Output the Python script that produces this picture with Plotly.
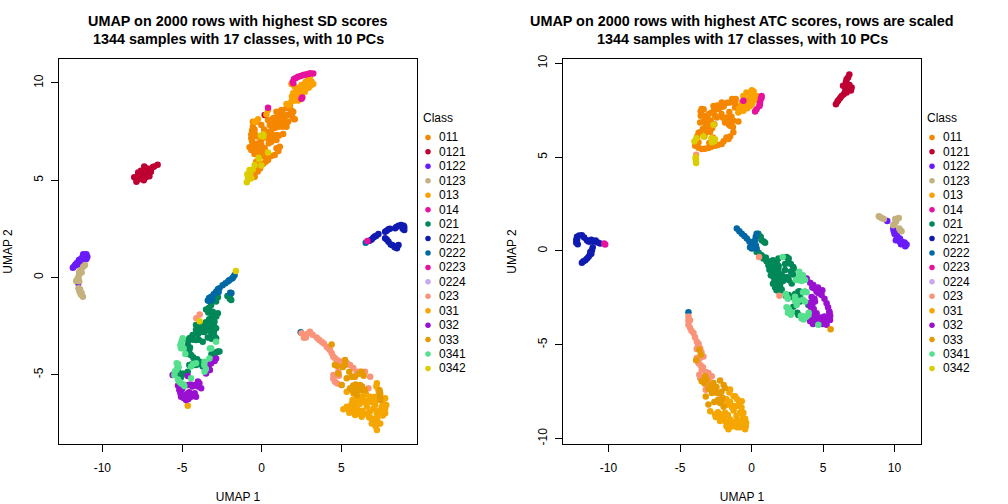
import plotly.graph_objects as go

WIDTH, HEIGHT = 1008, 504

classes = ["011", "0121", "0122", "0123", "013", "014", "021", "0221", "0222",
           "0223", "0224", "023", "031", "032", "033", "0341", "0342"]
colors = ["#F58700", "#BE0032", "#6A1BFA", "#C4B17E", "#FBA200", "#E6119D", "#008859",
          "#0F1AB0", "#0067A5", "#E6119D", "#C8A8F0", "#F99379", "#F6A600", "#9A10D0",
          "#E69A00", "#55E08E", "#DDCC00"]

sd_011 = [(1.77,8.87),(1.56,8.70),(1.24,8.61),(0.93,8.52),(1.98,8.52),(1.77,8.35),(1.45,8.27),(1.14,8.27),
          (0.72,8.18),(0.40,8.10),(2.08,8.13),(1.66,8.01),(1.24,7.92),(0.82,7.92),(0.51,7.84),(1.56,7.75),
          (1.03,7.75),(0.72,7.67),(1.35,7.38),(0.93,7.32),(0.51,7.50),(0.40,7.15),(0.93,7.07),(0.61,6.98),
          (-0.55,7.75),(-0.34,8.01),(-0.44,7.41),(-0.65,7.15),(-0.55,6.90),(-0.76,6.69),(-0.34,6.72),
          (-0.02,6.81),(-0.65,6.55),(-0.13,6.38),(0.30,6.30),(0.93,6.64),(1.14,6.72),(0.82,6.30),(0.40,6.04),
          (0.09,5.83),(-0.34,5.95),(-0.34,5.61),(-0.65,5.44),(-0.76,5.27),(-0.44,5.18),(-0.13,6.55),
          (0.19,6.64),(-0.02,7.07),(0.30,7.41),(-0.02,7.84),(2.0,8.15),
          (1.2,8.3),(1.4,8.1),(1.0,8.05),(0.8,8.2),(1.1,7.95),(1.6,8.35),(1.3,8.45),(1.0,8.4),(0.6,8.0),(1.85,8.6),
          (1.9,8.3),(1.5,7.85),(1.3,7.75),(0.85,7.7),(0.6,7.4),(1.1,7.3),(0.75,7.1),(0.55,7.25),(0.45,6.9),
          (-0.6,7.0),(-0.45,6.85),(-0.2,6.9),(-0.2,6.65),(-0.5,6.55),(-0.45,6.35),(-0.3,6.4),(0.1,6.45),(0.05,6.25),
          (0.35,6.1),(0.25,5.95),(0.6,6.25),(1.05,6.5),(-0.15,5.85),(-0.1,5.6),(-0.5,5.5),(-0.55,5.3),(-0.25,5.45),
          (-0.6,7.55),(-0.45,7.6),(-0.3,7.25),(0.15,7.6),(0.1,7.2),(-0.65,7.35),(-0.55,8.0)]
sd_0121 = [(-6.53,5.80),(-6.85,5.66),(-7.23,5.61),(-7.58,5.49),(-7.06,5.35),(-7.58,5.27),(-8.0,5.15),(-7.86,4.92),
           (-7.27,5.15),(-6.95,5.44),(-7.69,5.05),(-7.37,5.70),(-7.2,5.35),(-7.45,5.35),(0.19,8.35),
           (-7.75,5.25),(-7.9,5.1),(-7.6,5.1),(-7.45,5.15),(-7.35,5.5),(-7.15,5.5),(-7.0,5.55),(-6.75,5.7),(-7.05,5.2),
           (-7.4,5.0),(-7.75,5.4)]
sd_0122 = [(-11.15,1.16),(-11.47,0.90),(-11.78,0.56),(-10.94,1.07),(-11.26,0.85),(-11.3,0.6),(-11.5,0.65),
           (-11.51,-0.30),(-11.1,1.05),(-11.0,1.2),(-11.25,1.05),(-11.35,0.95),(-11.6,0.75),(-11.7,0.65),(-11.85,0.5),
           (-11.0,0.95),(-11.2,1.2),(-11.4,0.6)]
sd_0123 = [(-11.09,0.64),(-11.36,0.39),(-11.47,0.13),(-11.64,-0.18),(-11.5,-0.05),(-11.43,-0.73),(-11.5,-0.56),
           (-11.22,-0.99),(-11.35,-0.88),(-11.2,0.55),(-11.3,0.25),(-11.55,-0.05),(-11.45,-0.2),(-11.4,-0.6),
           (-11.3,-0.8),(-11.45,0.3)]
sd_013 = [(2.82,9.98),(3.13,10.07),(2.92,10.24),(2.50,9.89),(2.08,9.81),(1.98,9.47),(2.19,9.29),(2.40,9.47),
          (2.71,9.55),(1.87,9.95),(3.03,10.32),(3.24,9.95),(1.87,9.04),(1.56,8.92),(0.40,8.61),(-0.23,8.13),
          (-0.44,8.01),(0.30,8.38),(2.35,9.7),(2.95,9.75),(2.3,9.6),(2.55,9.5),(2.6,9.75),(2.85,9.75),(3.1,9.9),
          (2.75,10.05),(2.15,9.55),(2.05,9.25),(1.95,9.15),(1.7,8.85),(2.65,9.9),(3.0,10.05),(2.1,9.1),
          (3.05,9.85),(2.75,9.8),(2.45,9.3),(2.3,9.1),(1.9,9.3)]
sd_014 = [(3.24,10.49),(2.92,10.46),(2.61,10.41),(2.29,10.32),(2.03,10.20),(1.98,9.98),(2.50,9.19),(0.40,8.73),
          (2.45,10.35),(2.75,10.43),(3.05,10.5),(2.15,10.25),(1.95,10.05),(2.55,9.25)]
sd_021 = [(-2.02,-0.99),(-1.91,-1.16),(-2.75,-1.02),(-2.86,-1.24),(-3.17,-1.41),(-3.49,-1.64),(-3.07,-1.76),
          (-2.75,-1.84),(-3.17,-2.10),(-2.96,-2.27),(-4.12,-2.44),(-3.80,-2.61),(-3.38,-2.70),(-2.86,-2.61),
          (-3.07,-2.96),(-2.86,-3.13),(-4.12,-2.70),(-3.70,-2.44),(-3.38,-3.08),(-4.33,-2.96),(-4.54,-3.13),
          (-4.64,-3.47),(-4.54,-3.73),(-4.43,-3.98),(-4.22,-4.24),(-3.70,-3.30),(-4.12,-3.21),(-2.65,-3.81),
          (-2.96,-3.93),(-4.54,-4.50),(-4.12,-4.50),(-4.64,-4.84),(-5.21,-4.93),(-5.06,-5.13),(-5.27,-4.67),
          (-3.70,-4.58),(-3.91,-4.33),(-3.2,-2.5),(-3.5,-2.3),(-4.0,-2.9),
          (-3.3,-1.55),(-3.35,-1.8),(-3.1,-1.95),(-3.0,-2.0),(-2.85,-2.0),(-3.2,-2.25),(-3.0,-2.5),(-3.0,-2.8),
          (-3.25,-2.75),(-3.6,-2.6),(-3.95,-2.55),(-4.05,-2.6),(-3.85,-2.8),(-3.6,-2.8),(-3.15,-3.15),(-3.15,-2.85),
          (-2.95,-3.05),(-4.6,-3.25),(-4.45,-3.1),(-4.3,-3.2),(-3.95,-3.2),(-4.5,-3.6),(-4.55,-3.95),(-4.3,-4.1),
          (-4.05,-4.2),(-2.85,-3.85),(-2.75,-3.8),(-3.15,-3.95),(-4.35,-4.45),(-3.95,-4.45),(-5.0,-4.95),(-5.25,-4.85),
          (-4.9,-4.95),(-2.0,-1.1),(-2.15,-0.95),(-1.95,-0.85),(-3.35,-2.45),(-3.3,-2.15)]
sd_0221 = [(8.91,2.66),(8.59,2.66),(8.38,2.53),(8.95,2.44),(7.96,2.48),(7.75,2.35),(7.33,2.23),(7.02,2.06),
           (6.77,1.89),(7.75,2.01),(7.96,1.84),(8.22,1.65),(8.49,1.50),(8.59,1.67),(8.75,2.7),(8.85,2.5),(8.45,2.6),
           (8.05,2.5),(7.85,2.4),(7.2,2.15),(7.1,2.1),(6.9,1.95),(8.1,1.7),(8.35,1.55),(7.85,1.95),(8.5,1.6),(8.95,2.6)]
sd_0222 = [(-1.70,0.13),(-1.85,-0.05),(-2.02,-0.13),(-2.27,-0.30),(-2.65,-0.56),(-2.86,-0.73),(-3.17,-0.99),
           (-3.38,-1.19),(-3.1,-1.15),(-1.97,-0.78),(6.53,1.79),(2.45,-2.82),(-1.78,0.02),(-2.1,-0.2),(-2.45,-0.4),
           (-2.75,-0.6),(-3.0,-0.85),(-3.3,-1.05),(-2.7,-0.75),(-3.3,-1.2),(-1.9,-0.8)]
sd_0223 = [(6.64,1.87)]
sd_0224 = []
sd_023 = [(2.50,-2.87),(2.77,-3.08),(3.03,-2.79),(3.45,-3.08),(3.76,-3.30),(4.08,-3.56),(4.29,-3.73),(4.50,-4.07),
          (4.71,-4.24),(5.13,-4.41),(5.55,-4.50),(5.97,-4.84),(6.49,-4.84),(6.81,-5.10),(4.50,-5.01),(4.60,-5.36),
          (5.02,-5.53),(4.81,-4.84),(6.70,-5.70),(5.76,-5.10),(-3.89,-1.9),(-4.1,-2.1),(-0.70,5.35),
          (2.65,-3.1),(2.85,-2.9),(3.2,-2.95),(3.6,-3.2),(3.9,-3.4),(4.2,-3.65),(4.4,-3.9),(4.6,-4.15),(4.85,-4.3),
          (5.0,-4.4),(5.35,-4.4),(5.75,-4.65),(6.15,-4.85),(4.5,-5.2),(4.75,-5.45),(4.85,-5.05)]
sd_031 = [(7.23,-5.44),(7.33,-5.78),(7.75,-6.21),(7.82,-6.55),(7.75,-6.98),(7.44,-7.50),(7.23,-7.84),(6.91,-7.50),
          (6.70,-6.98),(6.28,-7.16),(5.86,-7.07),(5.76,-6.73),(5.34,-6.64),(5.13,-6.78),(6.60,-6.64),(7.12,-6.55),
          (6.28,-6.21),(5.97,-6.30),(6.81,-6.13),(7.23,-6.98),(5.76,-5.96),(5.34,-5.87),(7.54,-6.64),(7.02,-7.33),
          (-4.64,-6.59),(7.2,-5.6),(7.35,-6.0),(7.6,-6.4),(7.75,-6.75),(7.6,-7.1),(7.25,-7.25),(7.3,-7.5),(7.15,-7.65),
          (6.95,-7.25),(6.75,-7.2),(6.5,-7.0),(6.1,-7.0),(6.3,-6.85),(6.0,-6.8),(5.95,-6.55),(5.65,-6.5),(5.4,-6.75),
          (5.5,-6.95),(5.85,-6.9),(6.4,-6.4),(6.6,-6.35),(6.9,-6.4),(7.0,-6.75),(7.35,-6.85),(7.5,-6.95),(6.8,-6.9),
          (6.15,-6.5),(5.7,-6.3),(7.05,-6.15),(7.2,-6.3),(6.35,-6.1),(6.55,-6.0)]
sd_032 = [(-2.86,-4.16),(-3.17,-4.41),(-3.38,-4.58),(-3.49,-4.93),(-4.64,-5.06),(-4.64,-5.53),(-4.22,-5.53),
          (-3.91,-5.44),(-3.80,-5.70),(-5.17,-5.78),(-5.06,-6.13),(-4.75,-6.30),(-4.43,-6.13),(-4.12,-6.13),
          (-4.64,-5.96),(-5.59,-5.01),(-2.95,-4.3),(-3.1,-4.3),(-3.3,-4.5),(-3.45,-4.75),(-3.55,-4.6),(-3.25,-4.75),
          (-4.45,-5.5),(-4.0,-5.6),(-4.0,-5.35),(-4.35,-5.6),(-5.25,-5.55),(-5.1,-5.95),(-4.9,-6.2),(-4.6,-6.25),
          (-4.3,-6.05),(-4.55,-5.9),(-4.2,-5.95),(-4.85,-6.05),(-5.0,-5.75)]
sd_033 = [(4.39,-3.44),(4.60,-4.50),(5.23,-4.24),(5.23,-4.50),(4.81,-4.93),(5.34,-5.18),(5.86,-5.10),(6.28,-4.93),
          (5.02,-5.53),(5.55,-5.70),(6.18,-5.53),(6.49,-5.78),(5.97,-6.04),(7.44,-5.96),(7.44,-6.13),(6.28,-4.84),
          (5.7,-5.8),(5.9,-5.5),(6.05,-5.7),(6.3,-5.6),(5.75,-5.55),(5.85,-5.95),(6.2,-5.8),(7.45,-6.3),(7.4,-5.8),
          (5.1,-4.6),(4.75,-4.55),(5.5,-4.85),(5.65,-5.1),(6.1,-4.95),(6.4,-5.05)]
sd_0341 = [(-4.96,-3.13),(-5.06,-3.38),(-5.06,-3.64),(-4.79,-3.93),(-3.17,-3.64),(-3.28,-4.16),(-4.12,-4.41),
           (-4.43,-4.58),(-5.33,-4.41),(-5.21,-4.62),(-5.48,-5.01),(-5.17,-5.36),(-4.85,-5.58),(-4.43,-5.18),
           (-3.59,-4.84),(-3.59,-4.33),(-2.86,-3.30),(-5.0,-3.25),(-5.1,-3.5),(-4.9,-3.65),(-5.25,-4.45),(-5.35,-4.75),
           (-5.45,-4.85),(-5.25,-5.25),(-5.05,-5.45),(-4.9,-5.5),(-3.6,-4.5),(-3.5,-4.7),(-4.3,-4.45),(-3.25,-3.65)]
sd_0342 = [(0.02,7.27),(-0.17,6.09),(-0.44,5.78),(-0.76,5.52),(-0.86,5.18),(-0.93,4.89),(-0.65,5.1),(0.40,6.42),
           (-0.02,5.75),(-1.62,0.33),(-3.89,-2.25),(-0.05,7.3),(-0.85,5.05),(-0.9,5.3),(-0.55,5.55),(0.1,7.25),
           (-0.2,6.15),(-0.75,5.35),(0.1,7.35)]

atc_011 = [(-3.48,7.56),(-3.36,7.20),(-3.59,6.85),(-3.13,7.11),(-2.78,7.38),(-2.66,7.73),(-2.08,7.91),(-1.50,7.91),
           (-1.15,7.91),(-2.31,7.56),(-1.73,7.11),(-2.43,7.11),(-3.01,6.76),(-3.59,6.32),(-3.83,5.96),(-3.94,5.61),
           (-3.48,5.43),(-3.01,5.49),(-2.55,5.61),(-2.08,5.70),(-1.61,5.96),(-1.27,6.32),(-1.50,6.67),(-1.85,6.85),
           (-2.89,6.41),(-3.71,5.79),(-3.13,6.32),(-1.15,7.64),(-1.27,6.94),(-0.92,6.90),
           (-3.55,7.2),(-3.3,6.95),(-3.2,6.7),(-3.0,7.3),(-2.85,6.95),(-2.6,7.5),(-2.4,7.75),(-2.2,7.65),(-1.95,7.7),
           (-1.7,7.9),(-1.35,8.1),(-1.1,8.1),(-1.0,7.7),(-2.1,7.3),(-2.0,7.1),(-1.55,7.4),(-1.4,7.15),(-1.65,6.95),
           (-1.6,6.75),(-1.3,6.6),(-3.4,6.5),(-3.7,6.3),(-3.8,6.1),(-3.85,5.8),(-3.7,5.5),(-3.25,5.45),(-2.8,5.55),
           (-2.35,5.65),(-1.95,5.85),(-1.75,6.05),(-1.5,6.1),(-2.7,6.05),(-2.95,5.75),(-3.3,6.1),(-3.1,6.55),
           (-2.75,6.55),(-2.6,6.75),(-2.9,6.35),(-2.55,7.2),(-3.35,7.55),(-3.55,7.45)]
atc_0121 = [(6.84,9.41),(6.65,9.15),(6.53,8.79),(7.0,8.71),(6.65,8.44),(6.30,8.26),(6.07,8.03),(5.90,7.82),
            (6.7,8.9),(6.8,8.6),(6.75,9.25),(6.6,9.0),(6.6,8.6),(6.85,8.85),(6.45,8.35),(6.2,8.15),(6.0,7.95),
            (6.95,8.55),(6.4,8.8),(6.55,8.5)]
atc_0122 = [(9.49,1.6),(9.91,1.19),(10.14,0.84),(10.09,0.57),(10.6,0.39),(10.84,0.34),(10.37,0.66),(9.95,1.05),
            (10.0,0.9),(10.2,0.75),(10.35,0.5),(10.5,0.5),(10.7,0.45),(10.75,0.25),(10.45,0.35),(10.15,1.0)]
atc_0123 = [(8.9,1.85),(9.1,1.75),(10.19,1.72),(10.1,1.55),(9.91,1.37),(10.33,1.2),(10.49,1.05),(9.0,1.8),(9.25,1.7),
            (10.3,1.75),(10.05,1.7),(10.0,1.45),(10.4,1.1)]
atc_013 = [(0.02,8.56),(-0.57,8.26),(-0.22,8.09),(-0.68,7.91),(-0.33,7.82),(0.13,8.09),(-0.92,7.38),(0.36,8.26),
           (-0.57,7.47),(-0.10,7.73),(-0.35,8.45),(-0.1,8.35),(0.15,8.5),(0.2,8.3),(-0.05,8.05),(-0.45,8.05),(-0.7,7.7),
           (-0.75,7.5),(-0.55,7.7),(-0.3,7.6),(0.05,7.85),(-0.85,7.6),(0.3,8.05)]
atc_014 = [(0.71,8.26),(0.60,7.91),(0.55,7.73),(0.25,7.43),(-0.57,8.0),(-10.23,0.34),(0.65,8.1),(0.58,7.8),(0.35,7.55),
           (0.7,8.15)]
atc_021 = [(0.48,0.92),(0.71,0.57),(0.95,0.43),(0.36,-0.05),(0.71,-0.23),(0.95,-0.4),(1.88,-0.4),(0.83,-0.40),
           (1.18,-0.76),(1.76,-0.58),(1.41,-1.02),(1.88,-1.02),(1.53,-1.38),(2.11,-1.47),(1.76,-1.82),(2.34,-1.02),
           (2.57,-0.58),(2.92,-0.85),(2.81,-1.73),(3.27,-2.17),(3.39,-2.70),(2.92,-2.97),(3.27,-3.41),(2.69,-2.44),
           (2.11,-2.05),(2.46,-0.32),(3.74,-2.17),(3.97,-2.88),(0.65,0.75),(0.85,0.5),(0.5,-0.1),(0.6,-0.2),(0.8,-0.35),
           (1.05,-0.55),(1.5,-0.5),(1.3,-0.8),(1.7,-0.75),(1.45,-1.2),(1.7,-1.2),(1.75,-1.4),(1.95,-1.3),(1.85,-1.6),
           (1.6,-1.0),(2.0,-1.8),(2.2,-1.6),(2.6,-0.4),(2.75,-0.7),(2.95,-0.95),(2.6,-1.55),(2.85,-2.45),(3.05,-2.3),
           (3.4,-2.45),(3.2,-3.3),(1.9,-0.8),(1.5,-0.7),(1.25,-0.6),(1.0,-0.35),
           (1.35,-0.55),(1.55,-0.9),(1.25,-1.0),(1.35,-1.3),(1.6,-1.6),(1.5,-1.75),(1.65,-1.95),(1.75,-2.1),(1.95,-1.95),
           (1.85,-2.1),(2.0,-2.15),(2.1,-1.25),(2.35,-0.7),(2.75,-1.1),(2.9,-1.25),(2.55,-1.4),(2.35,-1.4),(3.35,-2.15),
           (3.15,-2.45),(2.6,-2.35),(2.4,-2.4)]
atc_0221 = [(-12.2,0.75),(-12.25,0.43),(-11.86,0.84),(-11.51,0.57),(-11.04,0.52),(-10.58,0.39),(-11.16,0.04),
            (-11.39,-0.31),(-11.62,-0.49),(-11.86,-0.63),(-12.05,0.82),(-12.25,0.6),(-11.3,0.5),(-11.27,-0.05),
            (-12.2,0.6),(-12.15,0.35),(-11.7,0.72),(-11.4,0.5),(-11.2,0.6),(-10.9,0.55),(-10.75,0.45),(-11.2,-0.15),
            (-11.3,-0.2),(-11.5,-0.4),(-11.75,-0.55),(-11.1,0.2)]
atc_0222 = [(-1.03,1.19),(-0.68,0.92),(-0.33,0.66),(0.02,0.30),(0.02,0.13),(0.36,0.92),(0.25,0.57),(0.36,0.13),
            (-4.41,-3.27),(-0.85,1.05),(-0.5,0.8),(-0.15,0.5),(0.1,0.45),(0.3,0.75),(-0.1,0.2),(0.3,0.3)]
atc_0223 = [(-10.3,0.4)]
atc_0224 = []
atc_023 = [(-4.41,-3.50),(-4.41,-3.94),(-4.06,-4.38),(-3.83,-4.83),(-3.59,-5.18),(-3.36,-5.62),(-3.83,-5.71),
           (-3.48,-6.33),(-3.01,-6.51),(-2.78,-6.68),(-3.59,-6.77),(-3.13,-7.21),(-2.55,-7.48),(-3.83,-5.23),
           (-4.41,-3.71),(-3.7,-5.98),(1.95,-2.39),(0.53,-0.32),(-3.87,5.13),(-4.3,-3.7),(-4.3,-4.1),(-4.2,-4.25),
           (-3.95,-4.6),(-3.7,-4.95),(-3.75,-5.1),(-3.5,-5.4),(-3.6,-5.7),(-3.55,-6.1),(-3.4,-6.2),(-3.2,-6.45),
           (-3.65,-6.6),(-3.35,-6.85),(-2.95,-6.75),(-3.2,-7.4),(-2.9,-7.35),(-3.0,-7.0)]
atc_031 = [(-1.15,-7.74),(-0.68,-8.01),(-0.57,-8.63),(-0.38,-9.16),(-0.45,-9.51),(-1.03,-9.25),(-1.61,-9.51),
           (-2.2,-9.07),(-2.55,-8.72),(-2.89,-8.54),(-1.27,-8.27),(-1.85,-8.63),(-1.5,-7.39),(-0.8,-8.63),
           (-1.5,-8.98),(-1.03,-8.27),(-1.0,-7.9),(-0.85,-8.15),(-0.7,-8.35),(-0.6,-8.9),(-0.45,-8.95),(-0.4,-9.35),
           (-0.6,-9.35),(-0.8,-9.4),(-1.0,-9.4),(-1.3,-9.35),(-1.5,-9.25),(-1.75,-9.35),(-1.8,-9.1),(-1.95,-8.85),
           (-2.2,-8.85),(-2.35,-8.6),(-2.5,-8.85),(-1.65,-8.75),(-1.35,-8.35),(-1.25,-8.5),(-1.05,-8.8),(-1.2,-9.1),
           (-0.95,-9.05),(-0.65,-9.15),(-1.7,-8.2),(-1.5,-8.05),(-1.25,-7.75),(-1.75,-7.9),(-1.55,-7.55),(-2.0,-8.7)]
atc_032 = [(3.86,-1.47),(4.32,-1.82),(4.55,-2.17),(4.90,-2.35),(5.25,-2.79),(5.44,-3.23),(5.49,-3.68),(5.02,-3.85),
           (4.55,-3.59),(4.2,-3.68),(4.09,-2.88),(4.55,-3.32),(4.44,-2.70),(5.25,-3.94),(4.1,-1.7),(4.4,-2.0),(4.7,-2.25),
           (5.1,-2.55),(5.35,-3.0),(5.5,-3.45),(5.3,-3.7),(5.0,-3.7),(4.75,-3.9),(4.45,-3.75),(4.15,-2.75),(4.35,-3.1),
           (4.25,-1.95),(4.65,-1.95),(4.95,-2.1),(5.45,-3.3),
           (4.7,-3.7),(4.85,-3.55),(5.1,-3.5),(4.4,-3.5),(4.3,-3.3),(4.95,-3.9),(4.15,-3.0),(4.4,-2.55),(4.2,-2.45),
           (4.7,-2.1),(4.3,-3.9),(4.1,-3.75),(4.25,-2.85)]
atc_033 = [(-3.66,-5.27),(-3.55,-5.53),(-3.87,-5.83),(-3.24,-6.68),(-3.48,-6.95),(-2.66,-7.04),(-2.2,-6.9),
           (-1.85,-7.30),(-2.78,-7.57),(-3.2,-7.76),(-2.03,-7.83),(-2.2,-8.10),(-3.01,-8.19),(5.53,-4.17),
           (-3.3,-7.05),(-3.15,-6.85),(-3.0,-7.35),(-2.45,-7.25),(-2.3,-7.6),(-2.5,-7.55),(-2.1,-7.5),(-2.85,-7.3),
           (-2.6,-8.05),(-2.35,-7.95),(-1.95,-7.15),(-2.8,-7.15),(-2.1,-8.0),(-1.95,-8.3)]
atc_0341 = [(2.18,-0.32),(3.34,-1.11),(3.27,-1.55),(3.74,-1.55),(2.46,-2.44),(3.74,-2.17),(3.04,-2.44),(3.16,-2.88),
            (3.74,-2.70),(2.69,-3.23),(3.62,-3.50),(3.97,-3.41),(4.67,-3.94),(3.35,-1.3),(3.5,-1.6),(3.1,-1.55),
            (3.6,-2.2),(3.85,-2.2),(3.25,-2.65),(3.05,-2.65),(2.6,-3.1),(2.8,-3.3),(3.45,-3.45),(3.75,-3.55),
            (3.85,-3.5),(2.55,-2.55),(3.6,-2.6),(2.45,-3.0),(2.55,-3.3),(2.75,-3.4),(3.5,-3.6),(3.65,-3.65),(4.0,-3.3),
            (2.4,-2.3),(3.3,-1.45),(3.6,-1.3)]
atc_0342 = [(-3.90,4.90),(-3.87,4.69),(-2.71,5.96),(-2.78,5.79),(-3.99,5.84),(-2.66,6.72),(-3.36,6.1),(-3.88,4.85),
            (-3.9,5.0),(-2.8,6.0),(-2.6,5.85),(-2.55,5.95),(-3.85,6.0)]

sd_points = [sd_011, sd_0121, sd_0122, sd_0123, sd_013, sd_014, sd_021, sd_0221, sd_0222,
             sd_0223, sd_0224, sd_023, sd_031, sd_032, sd_033, sd_0341, sd_0342]
atc_points = [atc_011, atc_0121, atc_0122, atc_0123, atc_013, atc_014, atc_021, atc_0221, atc_0222,
              atc_0223, atc_0224, atc_023, atc_031, atc_032, atc_033, atc_0341, atc_0342]

sd_xticks = [-10, -5, 0, 5]
sd_yticks = [-5, 0, 5, 10]
atc_xticks = [-10, -5, 0, 5, 10]
atc_yticks = [-10, -5, 0, 5, 10]

sd_title = ["UMAP on 2000 rows with highest SD scores", "1344 samples with 17 classes, with 10 PCs"]
atc_title = ["UMAP on 2000 rows with highest ATC scores, rows are scaled", "1344 samples with 17 classes, with 10 PCs"]

FONT = "Liberation Sans, Arial, sans-serif"
fig = go.Figure()


def px_x(a, b):
    return [a / WIDTH, b / WIDTH]


def px_y(top, bottom):
    return [1 - bottom / HEIGHT, 1 - top / HEIGHT]


panels = [
    dict(sfx="", lsfx="3", pts=sd_points, dom=(59, 417), xr=(-12.72, 9.75), yr=(-8.56, 11.23),
         xt=sd_xticks, yt=sd_yticks, title=sd_title, cx=238, leg=423),
    dict(sfx="2", lsfx="4", pts=atc_points, dom=(563, 921), xr=(-13.18, 11.85), yr=(-10.29, 10.23),
         xt=atc_xticks, yt=atc_yticks, title=atc_title, cx=742, leg=927),
]

annotations = []
for p in panels:
    for name, col, pts in zip(classes, colors, p["pts"]):
        fig.add_trace(go.Scatter(
            x=[q[0] for q in pts], y=[q[1] for q in pts], mode="markers", name=name,
            marker=dict(color=col, size=6.5, line=dict(width=0)),
            xaxis="x" + p["sfx"], yaxis="y" + p["sfx"], showlegend=False, hoverinfo="skip"))
    # class key, one row per class on its own hidden axes
    fig.add_trace(go.Scatter(
        x=[0] * len(classes), y=list(range(len(classes))), mode="markers",
        marker=dict(color=colors, size=5.5, line=dict(width=0)),
        xaxis="x" + p["lsfx"], yaxis="y" + p["lsfx"], showlegend=False, hoverinfo="skip"))
    for row, name in enumerate(classes):
        annotations.append(dict(text=name, x=0, y=row, xref="x" + p["lsfx"], yref="y" + p["lsfx"],
                                xanchor="left", yanchor="middle", xshift=9, showarrow=False,
                                font=dict(size=12, color="black", family=FONT)))
    annotations.append(dict(text="Class", x=(p["leg"] - 2) / WIDTH, y=1 - 118 / HEIGHT, xref="paper", yref="paper",
                            xanchor="left", yanchor="middle", showarrow=False,
                            font=dict(size=12, color="black", family=FONT)))
    for line, top in zip(p["title"], (21, 39)):
        annotations.append(dict(text="<b>" + line + "</b>",
                                x=p["cx"] / WIDTH, y=1 - top / HEIGHT, xref="paper", yref="paper",
                                xanchor="center", yanchor="middle", showarrow=False,
                                font=dict(size=14.4, color="black", family=FONT)))

axis_common = dict(showline=True, mirror=True, linecolor="black", linewidth=1, showgrid=False, zeroline=False,
                   ticks="outside", ticklen=7, tickwidth=1, tickcolor="black",
                   automargin=False, tickfont=dict(size=12, color="black", family=FONT))
title_font = dict(size=12, color="black", family=FONT)
layout = dict(
    width=WIDTH, height=HEIGHT, margin=dict(l=0, r=0, t=0, b=0), paper_bgcolor="white", plot_bgcolor="white",
    annotations=annotations, showlegend=False,
)
for p in panels:
    layout["xaxis" + p["sfx"]] = dict(axis_common, domain=px_x(*p["dom"]), range=list(p["xr"]), tickmode="array",
                                      tickvals=p["xt"], ticktext=[str(v) for v in p["xt"]], anchor="y" + p["sfx"],
                                      ticklabelstandoff=6,
                                      title=dict(text="UMAP 1", font=title_font, standoff=22))
    layout["yaxis" + p["sfx"]] = dict(axis_common, domain=px_y(59, 444), range=list(p["yr"]), tickmode="array",
                                      tickvals=p["yt"], ticktext=[str(v) for v in p["yt"]], tickangle=-90,
                                      anchor="x" + p["sfx"], ticklabelstandoff=3,
                                      title=dict(text="UMAP 2", font=title_font, standoff=17))
    dot = p["leg"] + 5
    layout["xaxis" + p["lsfx"]] = dict(domain=px_x(dot - 5, dot + 5), range=[-1, 1], visible=False, anchor="y" + p["lsfx"], fixedrange=True, automargin=False)
    layout["yaxis" + p["lsfx"]] = dict(domain=px_y(130.2, 375.7), range=[16.5, -0.5], visible=False, anchor="x" + p["lsfx"], fixedrange=True, automargin=False)
fig.update_layout(**layout)
fig.write_html("out.html", config=dict(displayModeBar=False),
               post_script="document.body.style.margin='0';document.body.style.overflow='hidden';")
